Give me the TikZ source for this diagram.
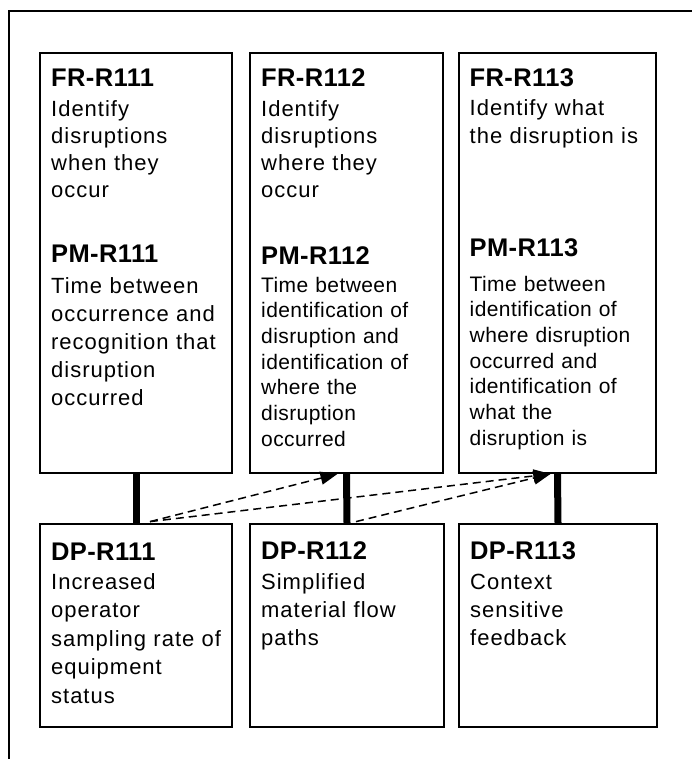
\documentclass[tikz,border=0pt]{standalone}
\usepackage{fontspec}
\setmainfont{Liberation Sans}
\newfontfamily\bodyfont[LetterSpace=4.5]{Liberation Sans}
\newfontfamily\narrowbodyfont[LetterSpace=2]{Liberation Sans}
\newfontfamily\headfont[LetterSpace=1.5]{Liberation Sans}
\usetikzlibrary{arrows.meta,calc}

\tikzset{
  x=1pt, y=1pt,
  frame/.style={line width=2pt, line cap=rect},
  box/.style={draw, line width=1.8pt, rectangle, inner sep=0pt},
  heading/.style={anchor=base west, inner sep=0pt, font=\headfont\fontsize{25.5}{30}\selectfont\bfseries},
  body/.style={anchor=base west, inner sep=0pt, text width=200pt, align=left,
    font=\bodyfont\fontsize{22}{#1}\selectfont},
  body/.default=28,
  smallbody/.style={anchor=base west, inner sep=0pt, text width=200pt, align=left,
    font=\narrowbodyfont\fontsize{21}{25.7}\selectfont},
  link/.style={line width=7pt},
  trace/.style={line width=1.5pt, dash pattern=on 8pt off 5pt,
    -{Triangle[length=17pt, width=13pt]}},
}

\begin{document}
\begin{tikzpicture}
\useasboundingbox (0,0) rectangle (692,-759);

% outer frame, running off the page to the right and below
\draw[frame] (9,-780) -- (9,-11) -- (720,-11);

% functional requirement boxes (with their performance measures)
\node[box, minimum width=192pt, minimum height=420pt] (fr1) at (136,-263) {};
\node[box, minimum width=193pt, minimum height=420pt] (fr2) at (346.5,-263) {};
\node[box, minimum width=197pt, minimum height=420pt] (fr3) at (557.5,-263) {};

% design parameter boxes
\node[box, minimum width=192pt, minimum height=203pt] (dp1) at (136,-625.5) {};
\node[box, minimum width=194pt, minimum height=203pt] (dp2) at (347,-625.5) {};
\node[box, minimum width=198pt, minimum height=203pt] (dp3) at (558,-625.5) {};

% column 1 text
\node[heading] (fr1h) at (51,-87) {FR-R111};
\node[body=27] (fr1b) at (51,-117) {Identify\\disruptions\\when they\\occur};
\node[heading] (pm1h) at (51,-262) {PM-R111};
\node[body=28.2] (pm1b) at (51,-293) {Time between\\occurrence and\\recognition that\\disruption\\occurred};
\node[heading] (dp1h) at (51,-560) {DP-R111};
\node[body=28.5] (dp1b) at (51,-589) {Increased\\operator\\sampling rate of\\equipment\\status};

% column 2 text
\node[heading] (fr2h) at (261,-87) {FR-R112};
\node[body=27] (fr2b) at (261,-117) {Identify\\disruptions\\where they\\occur};
\node[heading] (pm2h) at (261,-264) {PM-R112};
\node[smallbody] (pm2b) at (261,-292) {Time between\\identification of\\disruption and\\identification of\\where the\\disruption\\occurred};
\node[heading] (dp2h) at (261,-559) {DP-R112};
\node[body=28] (dp2b) at (261,-589) {Simplified\\material flow\\paths};

% column 3 text
\node[heading] (fr3h) at (469.5,-87) {FR-R113};
\node[body=28] (fr3b) at (469.5,-116) {Identify what\\the disruption is};
\node[heading] (pm3h) at (469.5,-256) {PM-R113};
\node[smallbody] (pm3b) at (469.5,-291) {Time between\\identification of\\where disruption\\occurred and\\identification of\\what the\\disruption is};
\node[heading] (dp3h) at (470,-559) {DP-R113};
\node[body=28] (dp3b) at (470,-589) {Context\\sensitive\\feedback};

% solid design links FR -- DP
\draw[link] (fr1.south) -- (dp1.north);
\draw[link] (fr2.south) -- (dp2.north);
\draw[link] (fr3.south) -- (dp3.north);

% dashed couplings from design parameters to other requirements
\coordinate (s1) at ($(dp1.north)+(14,1.5)$);
\coordinate (s2) at ($(dp2.north)+(9,1.5)$);
\coordinate (t2) at ($(fr2.south)+(-9,0)$);
\coordinate (t3) at ($(fr3.south)+(-7,0)$);
\draw[trace] (s1) -- (t2);
\draw[trace] (s1) -- (t3);
\draw[trace] (s2) -- (t3);
\end{tikzpicture}
\end{document}
